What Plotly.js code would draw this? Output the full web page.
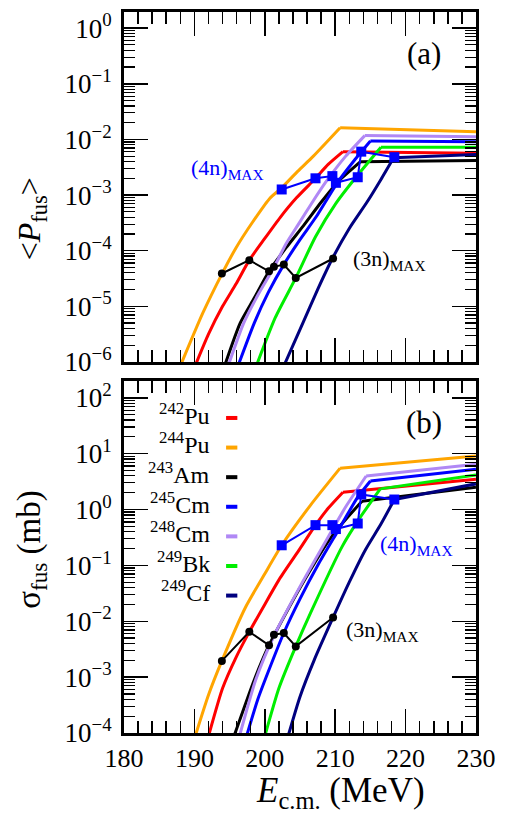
<!DOCTYPE html>
<html>
<head>
<meta charset="utf-8">
<script src="https://cdn.plot.ly/plotly-3.0.1.min.js"></script>
<style>html,body{margin:0;padding:0;background:#fff}#chart{width:507px;height:816px}</style>
</head>
<body>
<div id="chart"></div>
<script>
// ---------- data ----------
const names  = ['<sup>242</sup>Pu','<sup>244</sup>Pu','<sup>243</sup>Am','<sup>245</sup>Cm','<sup>248</sup>Cm','<sup>249</sup>Bk','<sup>249</sup>Cf'];
const colors = ['#ff0000','#ffa500','#000000','#0000ff','#b088f5','#00ee00','#00007f'];

// panel (a): <P_fus> vs E_c.m.  (last point of each list = flat tail after the kink)
const Ea_Pu242 = [190.0,192,194,195.9,197.8,200,202.2,204.5,207.2,209,211.1,230];
const Pa_Pu242 = [7.9e-7,3.16e-6,1.0e-5,2.51e-5,6.76e-5,1.66e-4,3.98e-4,8.91e-4,2.0e-3,3.55e-3,6.03e-3,5.62e-3];
const Ea_Pu244 = [187.9,191.2,193.9,195.9,198.3,200.7,202.4,204.7,206.9,210.7,230];
const Pa_Pu244 = [7.9e-7,7.6e-6,3.8e-5,1.12e-4,3.31e-4,8.7e-4,1.35e-3,2.69e-3,5.0e-3,1.62e-2,1.38e-2];
const Ea_Am243 = [194.2,196.5,198.5,200.6,203,205.5,208,210.5,213.6,230];
const Pa_Am243 = [7.9e-7,5.0e-6,1.41e-5,4.27e-5,1.12e-4,2.82e-4,7.41e-4,1.78e-3,3.98e-3,4.17e-3];
const Ea_Cm245 = [196.1,198.5,200.5,202.7,205,207.3,210.3,212.7,215,230];
const Pa_Cm245 = [7.9e-7,5.0e-6,1.78e-5,5.62e-5,1.58e-4,4.07e-4,1.66e-3,4.17e-3,9.33e-3,9.12e-3];
const Ea_Cm248 = [194.7,197,199,201.3,203,204.9,206.8,208.7,211.5,214.2,230];
const Pa_Cm248 = [7.9e-7,5.0e-6,1.58e-5,5.01e-5,1.32e-4,3.16e-4,7.59e-4,1.74e-3,5.01e-3,1.17e-2,1.12e-2];
const Ea_Bk249 = [198.7,201.5,204.4,207.2,210.1,213.2,216.5,230];
const Pa_Bk249 = [7.9e-7,6.31e-6,3.24e-5,1.78e-4,7.08e-4,2.29e-3,7.24e-3,7.2e-3];
const Ea_Cf249 = [202.6,205.4,207.5,209.6,212,214.5,216.5,218.3,230];
const Pa_Cf249 = [7.9e-7,5.0e-6,2.0e-5,7.24e-5,2.51e-4,7.41e-4,1.91e-3,4.68e-3,5.37e-3];

// maxima of the 4n and 3n channels (one per system)
const E_4n = [202.4,207.2,209.6,210.1,213.2,213.7,218.4];
const Pa_4n = [1.26e-3,2.0e-3,2.19e-3,1.66e-3,2.09e-3,6.03e-3,4.79e-3];
const E_3n = [193.9,197.8,200.6,201.3,202.7,204.4,209.7];
const Pa_3n = [3.89e-5,6.76e-5,4.27e-5,5.13e-5,5.62e-5,3.24e-5,7.24e-5];

// panel (b): sigma_fus (mb) vs E_c.m.
const Eb_Pu242 = [191.9,194,195.9,197.8,200,202.2,205,207.2,209,211.1,230];
const Sb_Pu242 = [7.9e-5,6.31e-4,2.24e-3,6.46e-3,2.0e-2,6.03e-2,0.2,0.525,1.05,2.04,3.47];
const Eb_Pu244 = [190.0,192,193.9,197.3,200,202.4,206.5,210.7,230];
const Sb_Pu244 = [7.9e-5,4.79e-4,1.95e-3,1.82e-2,7.08e-2,0.229,1.20,5.50,9.12];
const Eb_Am243 = [195.5,198.5,200.6,205,209.5,213.8,230];
const Sb_Am243 = [7.9e-5,8.91e-4,3.72e-3,3.98e-2,0.331,1.41,2.51];
const Eb_Cm245 = [197.3,199,200.5,202.7,205,207.7,210.3,213.2,215,230];
const Sb_Cm245 = [7.9e-5,3.98e-4,1.26e-3,6.17e-3,2.51e-2,0.11,0.398,1.66,3.24,5.25];
const Eb_Cm248 = [196.3,198.7,201.3,205,208.6,211.5,214.4,230];
const Sb_Cm248 = [7.9e-5,8.91e-4,5.5e-3,4.17e-2,0.263,1.12,3.98,6.46];
const Eb_Bk249 = [199.9,202,204.4,206.5,211,213.5,216.4,230];
const Sb_Bk249 = [7.9e-5,6.31e-4,3.55e-3,1.41e-2,0.219,0.708,2.34,4.17];
const Eb_Cf249 = [203.2,205,207,209.7,212,214.3,216.5,218.4,230];
const Sb_Cf249 = [7.9e-5,4.47e-4,2.0e-3,1.17e-2,5.01e-2,0.191,0.55,1.51,2.88];

const Sb_4n = [0.229,0.525,0.525,0.447,0.562,1.86,1.51];
const Sb_3n = [1.95e-3,6.46e-3,3.72e-3,5.75e-3,6.17e-3,3.55e-3,1.17e-2];

// tick labels
const ticksA = [1e-6,1e-5,1e-4,1e-3,1e-2,1e-1,1];
const ticksA_text = ['10<sup>\u22126</sup>','10<sup>\u22125</sup>','10<sup>\u22124</sup>','10<sup>\u22123</sup>','10<sup>\u22122</sup>','10<sup>\u22121</sup>','10<sup>0</sup>'];
const ticksB = [1e-4,1e-3,1e-2,1e-1,1,10,100];
const ticksB_text = ['10<sup>\u22124</sup>','10<sup>\u22123</sup>','10<sup>\u22122</sup>','10<sup>\u22121</sup>','10<sup>0</sup>','10<sup>1</sup>','10<sup>2</sup>'];

// ---------- build ----------
const FONT = 'Liberation Serif';
const curvesA = [[Ea_Pu242,Pa_Pu242],[Ea_Pu244,Pa_Pu244],[Ea_Am243,Pa_Am243],[Ea_Cm245,Pa_Cm245],[Ea_Cm248,Pa_Cm248],[Ea_Bk249,Pa_Bk249],[Ea_Cf249,Pa_Cf249]];
const curvesB = [[Eb_Pu242,Sb_Pu242],[Eb_Pu244,Sb_Pu244],[Eb_Am243,Sb_Am243],[Eb_Cm245,Sb_Cm245],[Eb_Cm248,Sb_Cm248],[Eb_Bk249,Sb_Bk249],[Eb_Cf249,Sb_Cf249]];
const drawOrder = [1,0,2,4,3,5,6];

const traces = [];
function addCurve(xs, ys, xa, ya, color) {
  const n = xs.length;
  // rising part, smoothly drawn through the read points
  traces.push({x:xs.slice(0,n-1), y:ys.slice(0,n-1), xaxis:xa, yaxis:ya, mode:'lines',
    line:{color, width:3, shape:'spline', smoothing:0.6}, showlegend:false, hoverinfo:'skip'});
  // tail after the kink
  traces.push({x:xs.slice(n-2), y:ys.slice(n-2), xaxis:xa, yaxis:ya, mode:'lines',
    line:{color, width:3}, showlegend:false, hoverinfo:'skip'});
}
drawOrder.forEach(i => addCurve(curvesA[i][0], curvesA[i][1], 'x', 'y', colors[i]));
drawOrder.forEach(i => addCurve(curvesB[i][0], curvesB[i][1], 'x2', 'y2', colors[i]));
[['x','y',Pa_3n,Pa_4n],['x2','y2',Sb_3n,Sb_4n]].forEach(([xa,ya,v3,v4]) => {
  traces.push({x:E_3n, y:v3, xaxis:xa, yaxis:ya, mode:'lines+markers',
    line:{color:'#000', width:2}, marker:{symbol:'circle', size:8, color:'#000'}, showlegend:false});
  traces.push({x:E_4n, y:v4, xaxis:xa, yaxis:ya, mode:'lines+markers',
    line:{color:'#0000ff', width:2}, marker:{symbol:'square', size:10, color:'#0000ff'}, showlegend:false});
});

const base = {showline:true, linewidth:3, linecolor:'#000', mirror:'allticks', ticks:'inside',
  tickwidth:1.5, tickcolor:'#000', showgrid:false, zeroline:false,
  tickfont:{family:FONT, size:27, color:'#000'}};
const xbase = Object.assign({}, base, {range:[180,230], tick0:180, dtick:10, ticklen:24,
  minor:{dtick:2, ticks:'inside', ticklen:12, tickwidth:1.5, tickcolor:'#000'}});
const ybase = Object.assign({}, base, {type:'log', tickmode:'array', ticklen:24, ticklabelstandoff:4,
  minor:{dtick:'D1', ticks:'inside', ticklen:11, tickwidth:1.2, tickcolor:'#000'}});

const annotations = [];
const shapes = [];
const txt = (text, xref, yref, x, y, size, color, extra) => Object.assign({text, xref, yref, x, y,
  showarrow:false, font:{family:FONT, size, color}, xanchor:'center', yanchor:'middle'}, extra||{});

annotations.push(txt('(a)','x domain','y domain',0.852,0.88,31,'#000'));
annotations.push(txt('(b)','x2 domain','y2 domain',0.852,0.881,31,'#000'));
annotations.push(txt('(4n)<sub>MAX</sub>','x domain','y domain',0.294,0.55,22,'#0000ff'));
annotations.push(txt('(3n)<sub>MAX</sub>','x domain','y domain',0.753,0.29,22,'#000'));
annotations.push(txt('(4n)<sub>MAX</sub>','x2 domain','y2 domain',0.832,0.535,22,'#0000ff'));
annotations.push(txt('(3n)<sub>MAX</sub>','x2 domain','y2 domain',0.733,0.29,22,'#000'));
annotations.push(txt('&lt;<i>P</i><sub>fus</sub>&gt;','paper','y domain',-0.262,0.41,32,'#000',{textangle:-90}));
annotations.push(txt('\u03c3<sub>fus</sub> (mb)','paper','y2 domain',-0.262,0.52,33,'#000',{textangle:-90}));
annotations.push(txt('<i>E</i><sub>c.m.</sub> (MeV)','x2 domain','y2 domain',0.615,-0.235,35,'#000',{yanchor:'bottom'}));

// legend: label then short dash (as in the reference)
names.forEach((n,i) => {
  const yc = 0.895 - i*0.0841;
  annotations.push(txt(n,'x2 domain','y2 domain',0.249,yc+0.012,24,'#000',{xanchor:'right'}));
  shapes.push({type:'line', xref:'x2 domain', yref:'y2 domain', x0:0.29, x1:0.322, y0:yc, y1:yc,
    line:{color:colors[i], width:4}});
});

const layout = {
  width:507, height:816, margin:{l:124, r:31, t:12, b:83},
  paper_bgcolor:'#fff', plot_bgcolor:'#fff', showlegend:false,
  font:{family:FONT, color:'#000'},
  xaxis:Object.assign({}, xbase, {anchor:'y', showticklabels:false}),
  yaxis:Object.assign({}, ybase, {anchor:'x', domain:[0.5146,1], range:[-6,0.29], tickvals:ticksA, ticktext:ticksA_text}),
  xaxis2:Object.assign({}, xbase, {anchor:'y2', showticklabels:true, ticklabelstandoff:0, tickfont:{family:FONT, size:26, color:'#000'}}),
  yaxis2:Object.assign({}, ybase, {anchor:'x2', domain:[0,0.4882], range:[-4,2.3], tickvals:ticksB, ticktext:ticksB_text}),
  annotations, shapes
};

Plotly.newPlot('chart', traces, layout, {staticPlot:true, displayModeBar:false});
</script>
</body>
</html>
